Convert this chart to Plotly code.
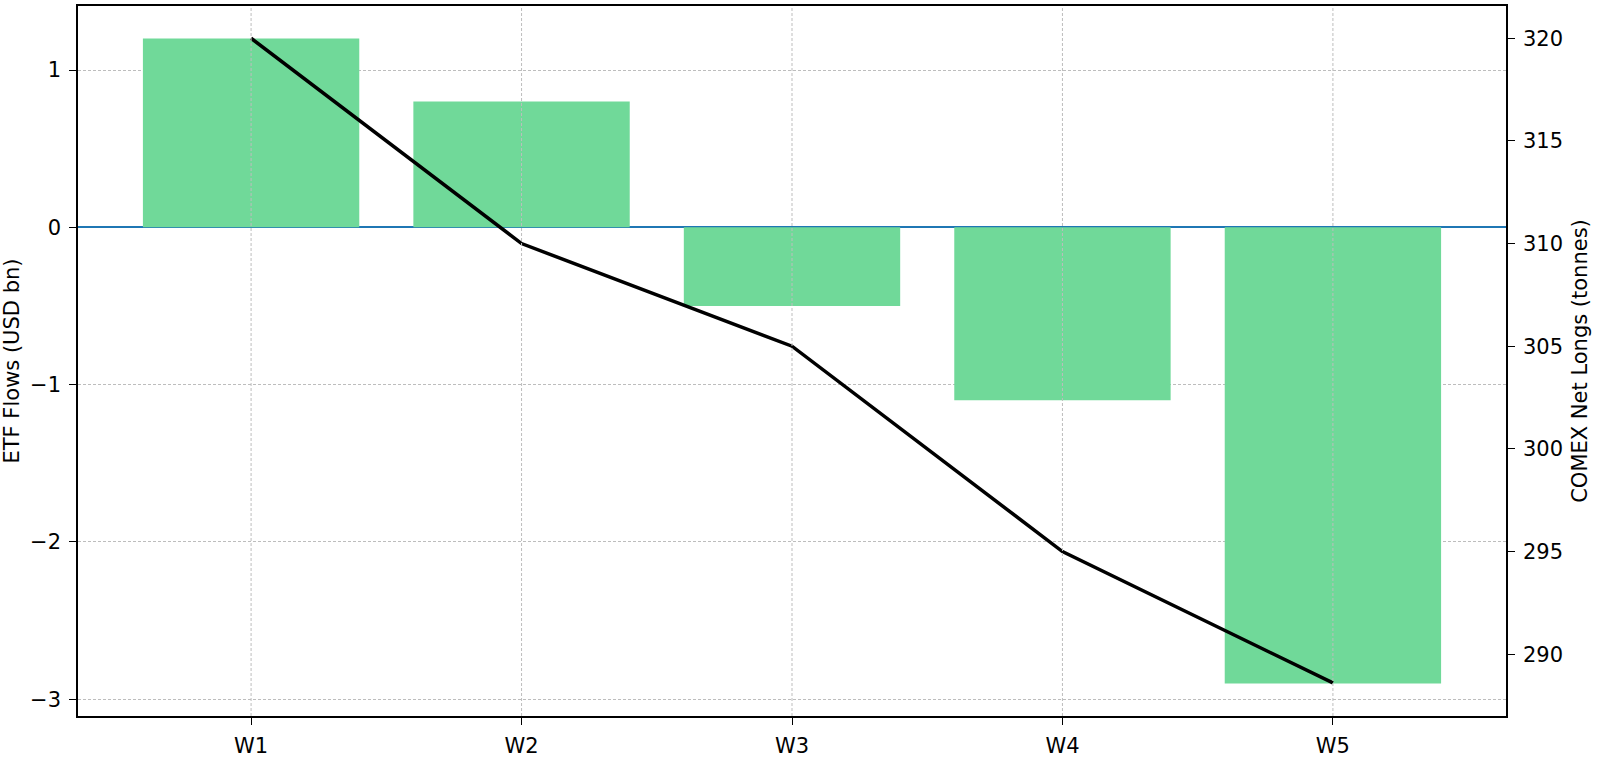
import plotly.graph_objects as go

weeks = ["W1", "W2", "W3", "W4", "W5"]
etf_flows = [1.2, 0.8, -0.5, -1.1, -2.9]
comex_net_longs = [320.0, 310.0, 305.0, 295.0, 288.6]
left_ticks = [-3, -2, -1, 0, 1]
right_ticks = [290, 295, 300, 305, 310, 315, 320]

FONT = dict(family="DejaVu Sans", size=21, color="black")
GRID = "#bdbdbd"
DASH = "3px,2px"

fig = go.Figure()
fig.add_trace(go.Bar(
    x=weeks, y=etf_flows, width=0.8, marker=dict(color="#70d999", line=dict(width=0)),
    name="ETF Flows", yaxis="y", showlegend=False,
))
fig.add_trace(go.Scatter(
    x=weeks, y=comex_net_longs, mode="lines", line=dict(color="black", width=3.5),
    name="COMEX Net Longs", yaxis="y2", showlegend=False,
))

# vertical grid lines drawn above the bars (as in the reference)
for w in weeks:
    fig.add_shape(type="line", x0=w, x1=w, xref="x", y0=0, y1=1, yref="paper",
                  line=dict(color=GRID, width=1, dash=DASH), layer="above")

fig.update_layout(
    width=1600, height=763,
    margin=dict(l=78, r=94, t=6, b=47, autoexpand=False),
    paper_bgcolor="white", plot_bgcolor="white",
    font=FONT, bargap=0.2,
    xaxis=dict(
        type="category", range=[-0.64, 4.64], showgrid=False, automargin=False,
        showline=True, linecolor="black", linewidth=1.5, mirror=True,
        ticks="outside", ticklen=7, tickwidth=1.3, tickcolor="black",
        ticklabelstandoff=3, tickfont=FONT,
    ),
    yaxis=dict(
        range=[-3.107, 1.407], tickvals=left_ticks, showgrid=True, automargin=False,
        gridcolor=GRID, griddash=DASH, gridwidth=1,
        zeroline=True, zerolinecolor="#1f77b4", zerolinewidth=2,
        showline=True, linecolor="black", linewidth=1.5,
        ticks="outside", ticklen=7, tickwidth=1.3, tickcolor="black",
        ticklabelstandoff=4, tickfont=FONT,
        title=dict(text="ETF Flows (USD bn)", font=FONT, standoff=10),
    ),
    yaxis2=dict(
        overlaying="y", side="right", range=[286.99, 321.57], tickvals=right_ticks,
        showgrid=False, zeroline=False, automargin=False,
        showline=True, linecolor="black", linewidth=1.5,
        ticks="outside", ticklen=7, tickwidth=1.3, tickcolor="black",
        ticklabelstandoff=4, tickfont=FONT,
        title=dict(text="COMEX Net Longs (tonnes)", font=FONT, standoff=10),
    ),
)

fig.write_html(
    "out.html",
    config={"displayModeBar": False},
    post_script="document.body.style.margin='0';document.body.style.overflow='hidden';",
)
